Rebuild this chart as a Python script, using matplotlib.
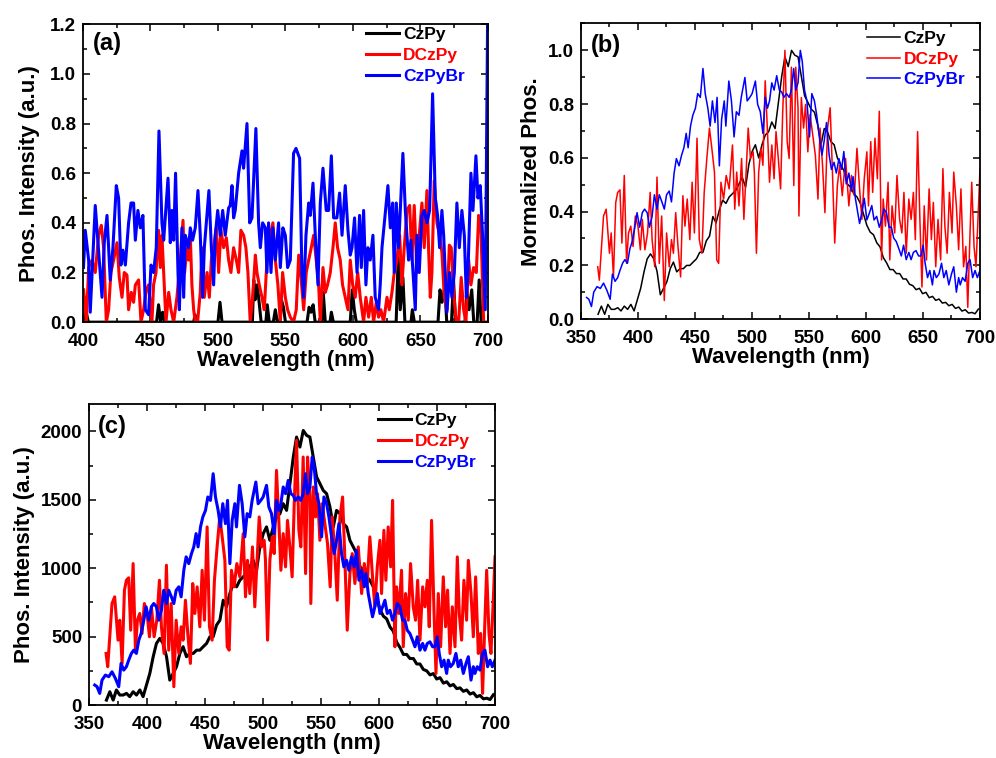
import matplotlib
matplotlib.use('Agg')
import matplotlib.pyplot as plt
from matplotlib.ticker import MultipleLocator
import numpy as np

plt.rcParams['font.family'] = ['Liberation Sans', 'DejaVu Sans']
plt.rcParams['font.weight'] = 'bold'
plt.rcParams['axes.labelweight'] = 'bold'

labels = ['CzPy', 'DCzPy', 'CzPyBr']
colors = ['black', 'red', 'blue']

# ---- panel (a): weak emission, mostly noise ----
wl_a_cz = [400, 402, 404, 454.5, 456, 457.5, 459, 460.5, 482, 483, 484.5, 500, 501.5, 503,
           525.5, 526.5, 527.5, 529, 530.5, 532, 535.5, 536.5, 538, 541, 542.5, 544,
           546, 547, 548.5, 550, 566, 567.5, 569, 570.5, 572, 577, 578, 579.5, 583, 584,
           585.5, 598, 599.5, 601, 602.5, 632, 633.5, 635, 637, 638.5, 643, 644, 645.5,
           663, 664.5, 666, 668, 669.5, 673, 674.5, 676, 683, 684.5, 686, 688, 689.5,
           692, 693.5, 695, 700]
int_a_cz = [0, .05, 0, 0, .07, 0, .04, 0, 0, .03, 0, 0, .08, 0,
            0, .17, .09, .15, .08, 0, 0, .07, 0, 0, .05, 0,
            0, .09, .06, 0, 0, .06, .04, .07, 0, 0, .12, 0, 0, .04,
            0, 0, .13, .05, 0, 0, .26, .05, .18, 0, 0, .05, 0,
            0, .13, .08, .14, 0, 0, .17, 0, 0, .12, .05, .13, 0,
            0, .17, 0, 0]

wl_a_dcz = [400.5, 402.5, 404.2, 406.7, 409.1, 411.6, 413.6, 415.3, 417.3, 419.0,
            420.7, 422.7, 425.2, 426.9, 428.9, 430.6, 432.6, 433.8, 435.8, 437.5,
            438.8, 441.2, 443.0, 444.9, 446.9, 448.6, 451.1, 452.3, 454.1, 456.0,
            457.3, 458.5, 460.2, 461.5, 463.5, 465.2, 467.2, 469.6, 472.1, 474.1,
            475.3, 477.0, 478.3, 479.5, 480.7, 482.0, 483.2, 484.9, 486.9, 488.1,
            489.9, 491.9, 493.6, 495.1, 496.8, 498.8, 500.5, 502.2, 504.2, 506.2,
            507.9, 509.6, 511.6, 513.6, 515.3, 517.0, 519.0, 520.7, 522.2, 523.9,
            525.7, 527.7, 528.9, 530.6, 532.6, 534.3, 536.3, 538.8, 540.7, 542.5,
            544.4, 546.2, 547.9, 549.9, 551.6, 553.6, 556.0, 558.0, 559.8, 561.5,
            563.5, 565.4, 567.2, 569.1, 570.9, 572.8, 574.6, 575.8, 577.8, 579.5,
            581.2, 583.2, 585.2, 586.9, 588.6, 590.6, 592.3, 594.3, 596.3, 598.0,
            599.8, 601.7, 603.5, 605.4, 607.9, 609.6, 611.6, 613.6, 615.3, 617.3,
            619.0, 620.7, 622.7, 625.2, 626.9, 628.9, 630.6, 632.6, 634.6, 636.3,
            638.0, 640.0, 642.0, 643.7, 645.4, 647.4, 649.1, 651.1, 652.8, 654.8,
            656.0, 657.3, 658.5, 660.2, 662.2, 664.2, 665.9, 667.7, 669.6, 671.4,
            672.8, 674.6, 676.5, 678.3, 680.2, 682.0, 683.7, 685.7, 687.4, 689.4,
            691.4, 693.1, 694.8, 696.8]
int_a_dcz = [.13, 0, .22, .25, .2, .35, .39, .3, 0, .05,
             .2, .25, .32, .18, .1, .2, .19, .05, .12, .08,
             .15, .17, 0, .05, .13, .15, 0, .15, .2, .37,
             .22, .35, .15, 0, .12, .05, 0, .1, .25, .41,
             .2, .3, .25, .35, .15, .05, 0, 0, .12, .3,
             .1, .2, .1, .25, .3, .38, .2, .37, .3, .34,
             .25, .2, .3, .25, .2, .37, .35, .3, .2, 0,
             .1, .27, .2, .15, .1, .05, .25, .35, .4, .25,
             .15, 0, .2, .1, .05, .02, 0, .05, .27, .18,
             .05, .2, .25, .3, .35, .25, .15, 0, .22, .12,
             .15, .2, .3, .4, .3, .25, .15, .1, .05, .25,
             .15, .1, .2, .1, 0, .1, .02, .1, 0, .08,
             .02, .05, 0, .1, .05, .12, .2, .25, .35, .15,
             .3, .45, .47, .25, .47, .2, .35, .48, .3, .53,
             .3, .1, .2, .57, .4, .35, .28, .1, .05, .31,
             .3, .12, 0, 0, .18, .05, 0, .25, .15, .22,
             .2, .43, .38, 0]

wl_a_br = [400.4, 401.7, 404.2, 405.4, 409.1, 412.8, 414.1, 415.8, 417.8, 420.2, 422.2,
           424.7, 426.4, 428.1, 429.6, 431.4, 433.8, 435.6, 437.5, 438.8, 440.7,
           442.5, 444.4, 446.2, 448.6, 450.4, 452.3, 454.3, 456.3, 458.5, 459.8,
           463.0, 464.7, 465.9, 467.2, 468.6, 470.4, 471.4, 473.3, 474.6, 475.8,
           478.3, 479.5, 481.2, 483.2, 485.2, 486.9, 488.6, 489.9, 493.3, 495.1,
           496.8, 498.0, 499.8, 501.7, 503.5, 505.4, 507.9, 509.1, 510.4, 511.6,
           512.8, 515.3, 517.8, 519.0, 521.5, 523.5, 525.2, 528.1, 530.1, 531.4,
           533.1, 535.1, 536.3, 537.5, 539.3, 540.7, 542.5, 544.9, 546.2, 548.1,
           549.9, 551.6, 553.6, 556.0, 557.8, 560.5, 562.2, 563.5, 565.2, 567.2,
           568.4, 570.4, 572.1, 574.1, 575.8, 577.8, 580.2, 582.0, 584.0, 585.7,
           588.1, 590.1, 591.9, 594.3, 596.3, 598.0, 599.3, 601.2, 603.0, 604.9,
           606.2, 607.9, 609.6, 611.1, 612.8, 614.8, 616.5, 619.0, 620.2, 621.5,
           624.0, 625.9, 627.7, 629.4, 630.6, 632.1, 633.8, 637.0, 638.8, 641.2,
           643.0, 646.2, 647.4, 649.1, 651.1, 652.8, 654.8, 656.8, 659.0, 661.0,
           662.7, 664.2, 665.9, 667.2, 669.6, 671.6, 673.3, 675.1, 677.0, 678.8,
           680.7, 682.5, 684.0, 685.2, 687.4, 688.9, 691.1, 692.6, 694.3, 696.0,
           698.0, 699.8]
int_a_br = [.22, .37, .25, .04, .47, .2, .1, .32, .43, .17, .3,
            .55, .5, .23, .29, .23, .4, .48, .48, .33, .45,
            .38, .43, .05, .03, .23, .2, .3, .77, .4, .33,
            .58, .32, .45, .33, .6, .2, .05, .38, .1, .35,
            .3, .38, .33, .38, .53, .35, .1, .3, .53, .3,
            .15, .35, .45, .35, .45, .35, .46, .47, .55, .42,
            .45, .6, .69, .62, .8, .4, .42, .78, .4, .3,
            .4, .38, .2, .4, .2, .38, .25, .4, .22, .38,
            .35, .22, .25, .68, .7, .66, .2, .1, .35, .48,
            .43, .56, .35, .15, .48, .62, .45, .45, .67, .42,
            .42, .52, .35, .55, .37, .27, .3, .42, .2, .43,
            .22, .45, .15, .3, .25, .35, .1, .05, .15, .3,
            .44, .55, .38, .48, .2, .48, .3, .68, .45, .25,
            .33, .05, .35, .2, .43, .45, .4, .45, .92, .5,
            .43, .3, .45, .35, .04, .2, .1, .2, .48, .3,
            .45, .35, .1, .2, .6, .45, .67, .5, .55, .35,
            .05, 1.25]

# ---- panel (c): raw intensity; panel (b) is the same data normalised ----
wl_c_cz = [365.0, 367.9, 370.8, 373.6, 376.5, 379.4, 382.3, 385.1, 388.0, 390.9,
           393.8, 396.6, 399.5, 402.4, 405.3, 408.1, 411.0, 413.9, 416.8, 419.6,
           422.5, 425.4, 428.3, 431.1, 434.0, 436.9, 439.8, 442.7, 445.5, 448.4,
           451.3, 454.2, 457.0, 459.9, 462.8, 465.7, 468.5, 471.4, 474.3, 477.2,
           480.0, 482.9, 485.8, 488.7, 491.5, 494.4, 497.3, 500.2, 503.0, 505.9,
           508.8, 511.7, 514.6, 517.4, 520.3, 523.2, 526.1, 528.9, 531.8, 534.7,
           537.6, 540.4, 543.3, 546.2, 549.1, 551.9, 554.8, 557.7, 560.6, 563.4,
           566.3, 569.2, 572.1, 574.9, 577.8, 580.7, 583.6, 586.5, 589.3, 592.2,
           595.1, 598.0, 600.8, 603.7, 606.6, 609.5, 612.3, 615.2, 618.1, 621.0,
           623.8, 626.7, 629.6, 632.5, 635.3, 638.2, 641.1, 644.0, 646.9, 649.7,
           652.6, 655.5, 658.4, 661.2, 664.1, 667.0, 669.9, 672.7, 675.6, 678.5,
           681.4, 684.2, 687.1, 690.0, 692.9, 695.7, 698.6]
int_c_cz = [36, 97, 36, 110, 73, 73, 85, 61, 97, 73,
            110, 61, 146, 231, 353, 450, 487, 450, 353, 182,
            231, 280, 377, 426, 353, 377, 377, 401, 401, 426,
            450, 499, 499, 584, 620, 766, 718, 815, 888, 864,
            912, 937, 961, 1010, 1058, 985, 1156, 1253, 1302, 1204,
            1302, 1375, 1399, 1472, 1423, 1618, 1813, 1959, 1886, 2007,
            1971, 1959, 1813, 1667, 1618, 1569, 1545, 1448, 1302, 1423,
            1399, 1326, 1302, 1204, 1156, 1107, 1010, 985, 937, 912,
            864, 780, 700, 650, 630, 570, 540, 460, 420, 370,
            370, 340, 340, 300, 300, 260, 250, 220, 230, 190,
            200, 160, 170, 140, 150, 120, 125, 100, 110, 80,
            90, 60, 70, 45, 50, 40, 75]

wl_c_dcz = [364.7, 366.1, 369.8, 372.1, 375.0, 376.5, 378.5, 380.5, 382.2, 384.2,
            385.9, 388.0, 390.0, 391.7, 393.7, 395.7, 397.7, 400.0, 402.1, 403.8,
            406.1, 408.4, 410.7, 412.4, 414.7, 416.7, 418.7, 420.8, 423.1, 425.1,
            427.4, 429.4, 431.1, 433.1, 435.1, 437.4, 439.4, 441.2, 443.2, 445.5,
            447.5, 449.5, 451.8, 453.8, 456.1, 458.1, 460.4, 462.7, 464.8, 467.1,
            469.1, 470.8, 472.8, 475.1, 477.4, 480.0, 482.9, 484.9, 486.6, 488.6,
            490.9, 492.9, 494.9, 496.7, 498.7, 501.0, 502.1, 503.9, 505.9, 507.9,
            509.6, 511.6, 513.6, 515.4, 517.4, 519.4, 521.1, 523.1, 525.1, 526.9,
            528.9, 530.9, 532.6, 534.6, 536.7, 538.4, 540.4, 541.2, 543.3, 545.3,
            547.0, 549.0, 551.0, 553.3, 555.6, 557.9, 559.7, 561.9, 564.0, 566.3,
            568.6, 570.6, 572.6, 574.9, 576.9, 579.2, 582.1, 585.0, 587.3, 589.8,
            592.1, 594.4, 596.4, 598.5, 600.8, 602.2, 604.2, 605.9, 607.9, 610.0,
            611.7, 613.7, 615.1, 617.1, 619.4, 620.9, 622.9, 625.2, 627.2, 629.5,
            631.5, 633.3, 635.3, 637.6, 639.6, 641.6, 643.3, 645.3, 647.3, 649.1,
            651.1, 653.1, 655.4, 657.4, 659.1, 661.2, 663.2, 665.5, 667.5, 669.2,
            671.2, 673.2, 675.5, 677.0, 679.3, 681.3, 683.3, 685.6, 687.6, 689.3,
            691.3, 692.8, 694.8, 696.5, 698.5, 700.0]
int_c_dcz = [377, 280, 742, 791, 474, 620, 304, 839, 912, 930,
             547, 1034, 401, 620, 669, 523, 742, 669, 499, 718,
             499, 620, 912, 572, 377, 1022, 401, 742, 134, 620,
             377, 572, 474, 766, 523, 304, 888, 669, 864, 572,
             985, 620, 1302, 572, 474, 912, 1156, 1375, 1229, 1058,
             426, 401, 985, 864, 1034, 937, 1253, 791, 1058, 815,
             1156, 718, 1058, 1375, 1156, 1204, 1058, 474, 1058, 1229,
             1107, 1715, 1350, 985, 1253, 1010, 1350, 1156, 937, 1472,
             1934, 1277, 1156, 1813, 961, 1813, 1521, 742, 1594, 1375,
             1545, 1204, 1472, 1326, 1180, 864, 1375, 1107, 766, 1375,
             1521, 1058, 547, 961, 1107, 888, 1156, 815, 1034, 888,
             1229, 937, 718, 1010, 1204, 815, 1277, 912, 1302, 1010,
             1496, 426, 864, 669, 985, 426, 815, 620, 1034, 718,
             620, 912, 474, 864, 718, 912, 572, 1350, 718, 231,
             815, 426, 937, 572, 840, 377, 718, 426, 1083, 669,
             474, 912, 620, 1058, 815, 499, 937, 377, 523, 85,
             620, 985, 523, 377, 766, 1083]

wl_c_br = [354.9, 356.9, 359.2, 361.2, 364.1, 367.0, 369.8, 372.7, 375.6, 377.6,
           379.9, 382.2, 384.2, 386.5, 388.5, 390.8, 392.9, 394.9, 397.2, 399.2,
           401.5, 403.8, 405.8, 408.1, 410.1, 412.4, 414.4, 416.7, 418.7, 421.0,
           423.1, 425.1, 427.4, 429.4, 431.7, 433.7, 436.0, 438.3, 440.3, 442.3,
           444.0, 446.1, 448.1, 450.4, 452.4, 454.7, 457.0, 459.0, 461.3, 463.3,
           465.3, 467.6, 469.4, 471.4, 473.4, 475.7, 477.1, 479.7, 482.0, 484.3,
           486.3, 488.6, 490.6, 493.8, 495.8, 498.1, 500.1, 503.0, 505.0, 507.3,
           509.6, 511.6, 513.6, 515.4, 517.4, 519.4, 521.7, 524.0, 526.0, 528.0,
           530.3, 532.6, 534.6, 536.6, 538.4, 540.4, 542.4, 544.1, 546.1, 548.2,
           550.5, 552.5, 554.8, 556.8, 559.1, 561.4, 563.4, 565.4, 567.7, 569.7,
           572.0, 574.0, 576.3, 578.6, 580.6, 582.7, 585.0, 587.3, 588.7, 590.7,
           594.4, 596.4, 598.5, 600.8, 603.1, 605.1, 607.1, 609.4, 611.7, 613.7,
           615.7, 618.0, 620.3, 622.3, 624.3, 626.6, 628.9, 631.0, 633.0, 635.3,
           637.6, 639.6, 641.6, 643.9, 646.2, 648.2, 650.2, 651.9, 654.0, 656.0,
           658.3, 659.7, 661.7, 664.0, 666.3, 668.3, 670.4, 672.7, 675.0, 677.0,
           679.3, 681.3, 682.7, 684.7, 687.0, 689.3, 691.3, 693.6, 695.7, 697.7,
           700.0]
int_c_br = [146, 134, 85, 182, 219, 207, 243, 195, 134, 304,
            255, 280, 328, 377, 401, 377, 474, 523, 620, 718,
            620, 718, 742, 718, 620, 693, 839, 742, 839, 791,
            742, 839, 864, 791, 985, 1083, 1034, 1107, 1156, 1253,
            1156, 1302, 1375, 1423, 1521, 1496, 1691, 1521, 1423, 1302,
            1472, 1326, 1496, 1034, 1350, 1472, 1302, 1606, 1472, 1229,
            1399, 1375, 1496, 1630, 1472, 1496, 1521, 1606, 1448, 1399,
            1253, 1496, 1423, 1472, 1594, 1545, 1642, 1545, 1533, 1496,
            1521, 1496, 1545, 1691, 1545, 1594, 1813, 1740, 1545, 1472,
            1229, 1521, 1472, 1375, 1229, 1107, 1204, 1326, 1107, 1010,
            1058, 985, 1083, 1010, 1131, 912, 985, 864, 961, 815,
            645, 718, 815, 669, 718, 766, 669, 693, 620, 669,
            742, 718, 620, 620, 547, 523, 474, 426, 499, 401,
            450, 401, 450, 462, 426, 426, 499, 377, 280, 328,
            231, 328, 280, 304, 377, 280, 328, 231, 304, 353,
            182, 280, 231, 280, 255, 377, 401, 280, 328, 280,
            328]


def style_axes(ax, xmaj, xmin, ymaj, ymin):
    ax.xaxis.set_major_locator(MultipleLocator(xmaj))
    ax.xaxis.set_minor_locator(MultipleLocator(xmin))
    ax.yaxis.set_major_locator(MultipleLocator(ymaj))
    ax.yaxis.set_minor_locator(MultipleLocator(ymin))
    ax.tick_params(which='both', direction='in', top=True, right=True, width=1.1)
    ax.tick_params(which='major', length=5, labelsize=13.5)
    ax.tick_params(axis='x', which='major', pad=8)
    ax.tick_params(axis='y', which='major', pad=5)
    ax.tick_params(which='minor', length=3)
    for s in ax.spines.values():
        s.set_linewidth(1.3)
    ax.set_xlabel('Wavelength (nm)', fontsize=16, labelpad=0)


def add_legend(ax, x, y):
    ax.legend(loc='upper left', bbox_to_anchor=(x, y), frameon=False, fontsize=12.5,
              handlelength=1.9, handletextpad=0.2, labelspacing=0.32,
              borderpad=0, borderaxespad=0, labelcolor='linecolor')


fig = plt.figure(figsize=(9.96, 7.58), dpi=100)

# (a)
ax = fig.add_axes([0.0833, 0.575, 0.4066, 0.393])
ax.plot(wl_a_cz, int_a_cz, color=colors[0], lw=2.2, label=labels[0])
ax.plot(wl_a_dcz, int_a_dcz, color=colors[1], lw=2.2, label=labels[1])
ax.plot(wl_a_br, int_a_br, color=colors[2], lw=2.2, label=labels[2])
ax.set_xlim(400, 700)
ax.set_ylim(0, 1.2)
style_axes(ax, 50, 25, 0.2, 0.1)
ax.set_ylabel('Phos. Intensity (a.u.)', fontsize=16, labelpad=7)
ax.text(0.025, 0.975, '(a)', transform=ax.transAxes, fontsize=17, fontweight='bold',
        ha='left', va='top')
add_legend(ax, 0.70, 0.99)

# (b) normalised
ax = fig.add_axes([0.5833, 0.579, 0.4006, 0.390])
ax.plot(wl_c_cz, np.array(int_c_cz) / max(int_c_cz), color=colors[0], lw=1.1, label=labels[0])
ax.plot(wl_c_dcz, np.array(int_c_dcz) / max(int_c_dcz), color=colors[1], lw=1.1, label=labels[1])
ax.plot(wl_c_br, np.array(int_c_br) / max(int_c_br), color=colors[2], lw=1.1, label=labels[2])
ax.set_xlim(350, 700)
ax.set_ylim(0, 1.1)
style_axes(ax, 50, 25, 0.2, 0.1)
ax.set_ylabel('Mormalized Phos.', fontsize=16, labelpad=4)
ax.text(0.025, 0.965, '(b)', transform=ax.transAxes, fontsize=17, fontweight='bold',
        ha='left', va='top')
add_legend(ax, 0.717, 0.975)

# (c)
ax = fig.add_axes([0.0894, 0.0699, 0.4076, 0.397])
ax.plot(wl_c_cz, int_c_cz, color=colors[0], lw=2.2, label=labels[0])
ax.plot(wl_c_dcz, int_c_dcz, color=colors[1], lw=2.2, label=labels[1])
ax.plot(wl_c_br, int_c_br, color=colors[2], lw=2.2, label=labels[2])
ax.set_xlim(350, 700)
ax.set_ylim(0, 2200)
style_axes(ax, 50, 25, 500, 250)
ax.set_ylabel('Phos. Intensity (a.u.)', fontsize=16, labelpad=4)
ax.text(0.022, 0.965, '(c)', transform=ax.transAxes, fontsize=17, fontweight='bold',
        ha='left', va='top')
add_legend(ax, 0.712, 0.97)

fig.savefig('out.png', dpi=100)
